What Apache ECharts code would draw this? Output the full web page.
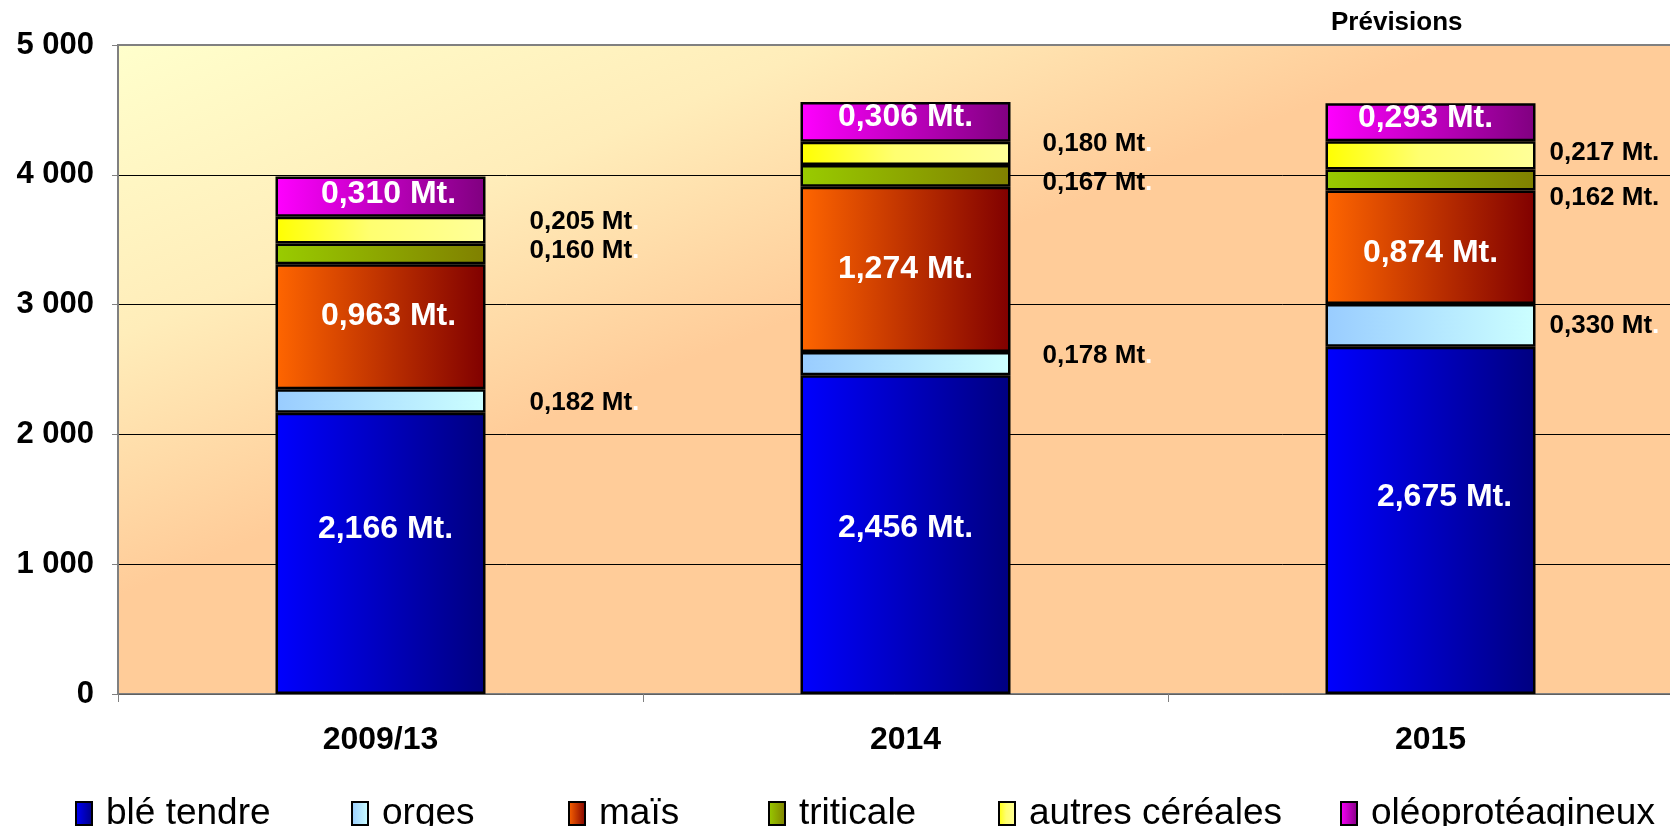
<!DOCTYPE html>
<html><head><meta charset="utf-8">
<script src="https://cdn.jsdelivr.net/npm/echarts@6/dist/echarts.min.js"></script>
<style>html,body{margin:0;padding:0;background:#fff}#c{width:1670px;height:826px}</style>
</head><body><div id="c"></div>
<script>
// ---- data (thousand tonnes) ----
const categories = ['2009/13', '2014', '2015'];
const seriesNames = ['blé tendre', 'orges', 'maïs', 'triticale', 'autres céréales', 'oléoprotéagineux'];
const bleTendre = [2166, 2456, 2675];
const orges = [182, 178, 330];
const mais = [963, 1274, 874];
const triticale = [160, 167, 162];
const autresCereales = [205, 180, 217];
const oleoproteagineux = [310, 306, 293];
const yTickLabels = ['0', '1 000', '2 000', '3 000', '4 000', '5 000'];
const noteText = 'Prévisions';

// ---- styles ----
const FONT = "'Liberation Sans', Arial, Helvetica, sans-serif";
function grad(stops) {
  return new echarts.graphic.LinearGradient(0, 0, 1, 0, stops.map((c, i) => ({offset: c[0], color: c[1]})));
}
const fills = [
  grad([[0, '#0000FF'], [1, '#000080']]),
  grad([[0, '#99CCFF'], [1, '#CCFFFF']]),
  grad([[0, '#FF6600'], [1, '#800000']]),
  grad([[0, '#99CC00'], [1, '#808000']]),
  grad([[0, '#FFFF00'], [0.45, '#FFFF70'], [1, '#FFFF99']]),
  grad([[0, '#FF00FF'], [1, '#800080']])
];
const seriesValues = [bleTendre, orges, mais, triticale, autresCereales, oleoproteagineux];
const insideSeries = [true, false, true, false, false, true];
// label offsets per series / category (layout tuning)
const labelOffsets = [
  [[5, -24], [0, -6], [14, -23]],
  [[0, 2], [0, -8], [0, 0]],
  [[8, -11], [0, 0], [0, 6]],
  [[0, -3], [0, 7], [0, 18]],
  [[0, -8], [0, -10], [0, -3]],
  [[8, -3], [0, -5], [-5, -4]]
];
const outsideDistance = [44, 32, 14];
const blackDot = [[false, false, false], [false, false, false], [false, false, false],
                  [false, false, true], [false, false, true], [false, false, false]];

function fmt(v) { return (v / 1000).toFixed(3).replace('.', ','); }

const series = seriesNames.map((name, si) => ({
  name: name,
  type: 'bar',
  stack: 'total',
  barWidth: 210,
  itemStyle: {color: fills[si], borderColor: '#000', borderWidth: 2.5},
  data: seriesValues[si].map((v, ci) => {
    const off = labelOffsets[si][ci];
    if (insideSeries[si]) {
      return {value: v, label: {show: true, position: 'inside', offset: off, color: '#fff',
        fontFamily: FONT, fontWeight: 'bold', fontSize: 32, formatter: p => fmt(p.value) + ' Mt.'}};
    }
    const bd = blackDot[si][ci];
    return {value: v, label: {show: true, position: 'right', distance: outsideDistance[ci], offset: off,
      formatter: p => bd ? '{a|' + fmt(p.value) + ' Mt.}' : '{a|' + fmt(p.value) + ' Mt}{w|.}',
      rich: {
        a: {color: '#000', fontFamily: FONT, fontWeight: 'bold', fontSize: 26},
        w: {color: '#fff', fontFamily: FONT, fontWeight: 'bold', fontSize: 26}
      }}};
  })
}));

const legendLefts = [70, 346, 563, 763, 993, 1335];
const legends = seriesNames.map((n, i) => ({
  data: [n], left: legendLefts[i], top: 790, itemWidth: 16, itemHeight: 23, itemGap: 0,
  icon: 'rect',
  itemStyle: {borderColor: '#000', borderWidth: 2},
  textStyle: {fontFamily: FONT, fontSize: 37, color: '#000', padding: [0, 0, 0, 9]},
  selectedMode: false
}));

const bgFill = new echarts.graphic.LinearGradient(0, 0, 0.145, 0.854, [
  {offset: 0, color: '#FFFFCC'},
  {offset: 0.45, color: '#FFEDBA'},
  {offset: 0.85, color: '#FFCC99'},
  {offset: 1, color: '#FFCC99'}
]);

const chart = echarts.init(document.getElementById('c'), null, {renderer: 'canvas'});
chart.setOption({
  animation: false,
  backgroundColor: '#fff',
  textStyle: {fontFamily: FONT},
  graphic: [{type: 'text', left: 1331, top: 10,
    style: {text: noteText, font: 'bold 26px ' + FONT, fill: '#000'}}],
  legend: legends,
  grid: {left: 118, width: 1575, top: 45, bottom: 132, show: true, backgroundColor: bgFill,
    borderColor: '#808080', borderWidth: 2, containLabel: false, outerBoundsMode: 'none'},
  xAxis: {
    type: 'category', data: categories,
    axisLine: {lineStyle: {color: '#808080', width: 1.5}},
    axisTick: {show: true, length: 8, lineStyle: {color: '#808080', width: 1}},
    axisLabel: {margin: 30, color: '#000', fontFamily: FONT, fontWeight: 'bold', fontSize: 32}
  },
  yAxis: {
    type: 'value', min: 0, max: 5000, interval: 1000,
    axisLine: {show: true, lineStyle: {color: '#808080', width: 2}},
    axisTick: {show: true, length: 6, lineStyle: {color: '#808080', width: 1}},
    axisLabel: {margin: 24, color: '#000', fontFamily: FONT, fontWeight: 'bold', fontSize: 31,
      formatter: v => yTickLabels[Math.round(v / 1000)]},
    splitLine: {show: true, showMaxLine: false, lineStyle: {color: '#000', width: 1}}
  },
  series: series
});
</script></body></html>
